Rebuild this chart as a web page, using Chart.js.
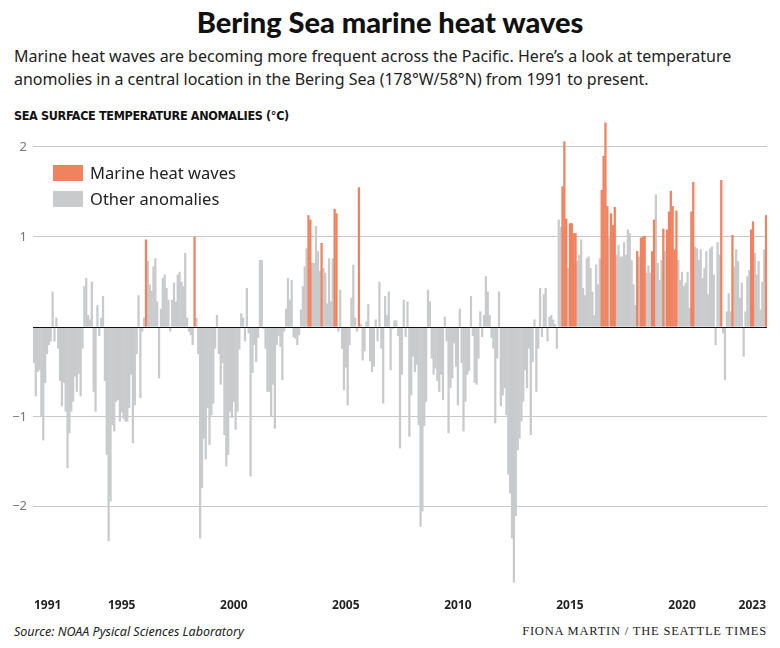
<!DOCTYPE html>
<html>
<head>
<meta charset="utf-8">
<script src="https://cdn.jsdelivr.net/npm/chart.js@4.4.0/dist/chart.umd.min.js"></script>
<style>
  body { margin:0; width:780px; height:648px; background:#fff; color:#222; font-family:"Noto Sans", sans-serif; position:relative; overflow:hidden; }
  h1 { position:absolute; top:4px; left:0; width:780px; margin:0; text-align:center; font:900 29px Lato, sans-serif; letter-spacing:0; color:#111; }
  .sub { position:absolute; left:14px; top:45px; width:766px; margin:0; font-size:16px; line-height:23px; }
  .ytitle { position:absolute; left:14px; top:108px; font:bold 12.5px "Liberation Sans Narrow", "DejaVu Sans Condensed", sans-serif; letter-spacing:-0.34px; color:#111; }
  #wrap { position:absolute; left:0; top:100px; width:780px; height:510px; }
  .leg { position:absolute; left:53px; font-size:16.5px; height:16px; line-height:16px; }
  .leg span { display:inline-block; width:30px; height:16px; vertical-align:top; margin-right:7px; }
  .source { position:absolute; left:14px; top:623px; font-style:italic; font-size:12.5px; }
  .credit { position:absolute; right:13px; top:624px; font:12.5px "Liberation Serif", serif; letter-spacing:0.8px; }
</style>
</head>
<body>
<h1>Bering Sea marine heat waves</h1>
<p class="sub">Marine heat waves are becoming more frequent across the Pacific. Here’s a look at temperature anomolies in a central location in the Bering Sea (178°W/58°N) from 1991 to present.</p>
<div class="ytitle">SEA SURFACE TEMPERATURE ANOMALIES (°C)</div>
<div id="wrap"><canvas id="chart" width="780" height="510"></canvas></div>
<div class="leg" style="top:165px"><span style="background:#f0825f"></span>Marine heat waves</div>
<div class="leg" style="top:191px"><span style="background:#c9cacc"></span>Other anomalies</div>
<div class="source">Source: NOAA Pysical Sciences Laboratory</div>
<div class="credit">FIONA MARTIN / THE SEATTLE TIMES</div>

<script>
// monthly sea surface temperature anomalies (°C), Feb 1991 - Oct 2023
const startYear = 1991;
const startMonth = 2;
const anomalies = [
  -0.40, -0.77, -0.50, -0.48, -1.00, -1.26, -0.62, -0.30, -0.20, -0.16, 0.39, -0.16,
  0.10, -0.24, -0.60, -0.88, -0.62, -0.94, -1.57, -1.18, -0.94, -0.83, -0.55, -0.72,
  -0.52, -0.77, -0.24, 0.45, 0.54, 0.13, 0.08, 0.50, -0.72, -0.94, 0.24, -0.10,
  0.10, 0.34, -0.60, -1.42, -2.38, -1.94, -1.09, -1.16, -0.83, -0.81, -1.05, -0.95,
  -1.02, -1.05, -1.05, -0.90, -0.53, -1.29, -0.87, -0.30, 0.35, -0.79, -0.05, 0.10,
  0.97, 0.73, 0.47, 0.40, 0.67, 0.76, 0.28, -0.57, 0.20, 0.54, 0.58, 0.43,
  0.30, -0.05, 0.30, 0.49, 0.28, 0.58, 0.61, 0.50, 0.45, 0.82, 0.10, -0.05,
  -0.09, -0.20, 1.00, 0.10, -0.30, -2.35, -1.79, -1.24, -1.47, -0.90, -1.31, -0.98,
  -0.85, -0.24, 0.13, -0.30, -0.64, -0.40, -1.20, -1.55, -1.42, -0.94, -1.01, -0.83,
  -1.14, -0.94, -0.25, 0.15, 0.10, -0.16, 0.43, -0.07, -1.66, -0.51, -0.20, -0.39,
  -0.12, 0.74, 0.74, -0.02, -0.24, -0.72, -0.72, -1.00, -0.64, -1.13, -0.20, -0.10,
  -0.22, -0.59, -0.05, 0.20, 0.54, 0.30, 0.52, -0.11, -0.13, -0.20, -0.09, 0.19,
  0.45, 0.67, 0.87, 1.24, 1.19, 0.71, 0.71, 1.12, 0.84, 0.62, 0.93, 0.65,
  0.60, 0.26, 0.76, 0.28, 0.76, 1.31, 1.26, -0.05, 0.41, -0.24, -0.70, -0.45,
  -0.87, -0.20, 0.32, 0.69, 0.10, -0.05, 1.55, 0.03, -0.37, -0.27, 0.06, 0.25,
  -0.38, -0.50, -0.44, 0.08, -0.16, 0.50, -0.24, -0.85, 0.34, 0.13, 0.39, -0.48,
  -0.02, 0.07, 0.07, -0.10, -1.35, -0.53, 0.30, -0.11, 0.28, -1.22, -0.76, -0.33,
  -0.50, -0.42, -1.09, -2.22, -2.05, -1.10, -0.83, 0.41, 0.28, -0.35, -0.53, -0.46,
  -0.60, -0.72, -0.53, -0.81, 0.11, -0.16, -1.18, -0.68, -0.57, -0.18, -0.44, -0.87,
  0.20, -0.40, -1.16, -0.83, -0.53, -0.49, 0.34, -0.10, -0.62, -0.64, -0.35, 0.17,
  -0.11, 0.13, 0.56, 0.39, 0.13, -0.12, -0.24, -1.07, -0.35, 0.39, -0.88, -0.76,
  -0.68, -0.98, -1.64, -1.85, -2.35, -2.84, -2.10, -1.37, -1.24, -1.05, -0.83, -0.48,
  -0.68, -0.24, -1.20, -0.39, 0.08, -0.72, -0.24, 0.43, -0.11, 0.36, 0.43, -0.16,
  0.11, 0.13, 0.08, 0.03, -0.24, 1.19, 1.11, 1.56, 2.06, 1.20, 0.65, 1.15,
  1.15, 1.04, 1.04, 0.73, 0.80, 0.97, 0.43, 0.35, 0.76, 0.78, 0.65, 0.39,
  0.13, 0.69, 0.47, 0.76, 1.52, 1.90, 2.27, 1.34, 0.99, 1.26, 1.13, 1.33,
  0.80, 0.91, 0.78, 0.78, 0.94, 0.80, 1.08, 1.04, 0.74, 0.47, 0.24, 0.84,
  0.78, 0.99, 1.00, 1.01, 0.60, 0.68, 0.60, 0.84, 1.19, 1.47, 0.71, 0.52,
  0.74, 1.09, 0.84, 1.08, 1.28, 1.51, 1.34, 0.86, 1.29, 0.74, 0.52, 0.61,
  0.45, 0.49, 0.61, 0.21, 1.28, 1.61, 0.89, 0.87, 0.74, 0.86, 0.54, 0.65,
  0.84, 0.36, 0.87, 0.89, 0.58, -0.20, 0.94, 0.80, 1.63, -0.07, -0.59, 0.17,
  0.37, 0.17, 1.02, 0.67, 0.86, 0.73, 0.32, 0.49, -0.33, 0.17, 0.56, 0.63,
  1.08, 1.17, 0.82, 0.58, 0.73, 0.19, 0.50, 0.86, 1.24
];

// months flagged as marine heat waves
const heatWaveMonths = [
  '1996-02', '1998-04', '2003-05', '2003-06', '2003-12', '2004-07', '2004-08', '2005-08',
  '2014-09', '2014-10', '2014-11', '2015-01', '2015-02', '2015-03', '2015-04',
  '2016-06', '2016-07', '2016-08', '2016-09', '2016-11', '2016-12', '2017-01',
  '2018-01', '2018-03', '2018-04', '2018-05', '2018-09', '2018-10',
  '2019-03', '2019-05', '2019-06', '2019-07', '2019-08', '2019-09', '2019-10',
  '2020-06', '2020-07', '2021-10', '2022-04', '2023-02', '2023-03', '2023-10'
];

// where the year labels go on the x axis
const tickMonths = ['1991-02', '1995-01', '2000-01', '2005-01', '2010-01', '2015-01', '2020-01', '2023-10'];

const months = [];
for (let i = 0; i < anomalies.length; i++) {
  const m = startMonth - 1 + i;
  const y = startYear + Math.floor(m / 12);
  months.push(y + '-' + String(m % 12 + 1).padStart(2, '0'));
}

const heatData = anomalies.map((v, i) => heatWaveMonths.includes(months[i]) ? v : null);
const otherData = anomalies.map((v, i) => heatWaveMonths.includes(months[i]) ? null : v);
const tickIdx = tickMonths.map(t => months.indexOf(t));

const zeroLine = {
  id: 'zeroLine',
  afterDatasetsDraw(chart) {
    const ctx = chart.ctx;
    const y = Math.round(chart.scales.y.getPixelForValue(0)) + 0.5;
    ctx.save();
    ctx.strokeStyle = '#111';
    ctx.lineWidth = 1.2;
    ctx.beginPath();
    ctx.moveTo(chart.chartArea.left, y);
    ctx.lineTo(chart.chartArea.right, y);
    ctx.stroke();
    ctx.restore();
  }
};

new Chart(document.getElementById('chart'), {
  type: 'bar',
  data: {
    labels: months,
    datasets: [
      { label: 'Marine heat waves', data: heatData, backgroundColor: '#f0825f',
        grouped: false, barPercentage: 1, categoryPercentage: 1, inflateAmount: 0.2 },
      { label: 'Other anomalies', data: otherData, backgroundColor: '#c9cacc',
        grouped: false, barPercentage: 1, categoryPercentage: 1, inflateAmount: 0.2 }
    ]
  },
  options: {
    responsive: false,
    animation: false,
    devicePixelRatio: 1,
    layout: { padding: { left: 0, right: 13, top: 20, bottom: 0 } },
    plugins: { legend: { display: false }, tooltip: { enabled: false } },
    scales: {
      x: {
        grid: { display: false },
        border: { display: false },
        afterBuildTicks: scale => {
          scale.ticks = scale.ticks.filter(t => tickIdx.includes(t.value));
        },
        afterFit: scale => { scale.height = 25; },
        ticks: {
          autoSkip: false,
          maxRotation: 0,
          align: 'inner',
          padding: 5,
          color: '#222',
          font: { family: 'Noto Sans', size: 12, weight: 'bold' },
          callback: value => months[value].slice(0, 4)
        }
      },
      y: {
        min: -2.87,
        max: 2.3,
        border: { display: false },
        afterFit: scale => { scale.width = 33; },
        grid: {
          drawTicks: false,
          color: c => c.tick.value === 0 ? 'rgba(0,0,0,0)' : '#c8c8c8',
          lineWidth: 1
        },
        ticks: {
          stepSize: 1,
          includeBounds: false,
          padding: 6,
          color: '#777',
          font: { family: 'Noto Sans', size: 13 },
          callback: v => v === 0 ? '' : (v < 0 ? '\u2212' + Math.abs(v) : String(v))
        }
      }
    }
  },
  plugins: [zeroLine]
});
</script>
</body>
</html>
